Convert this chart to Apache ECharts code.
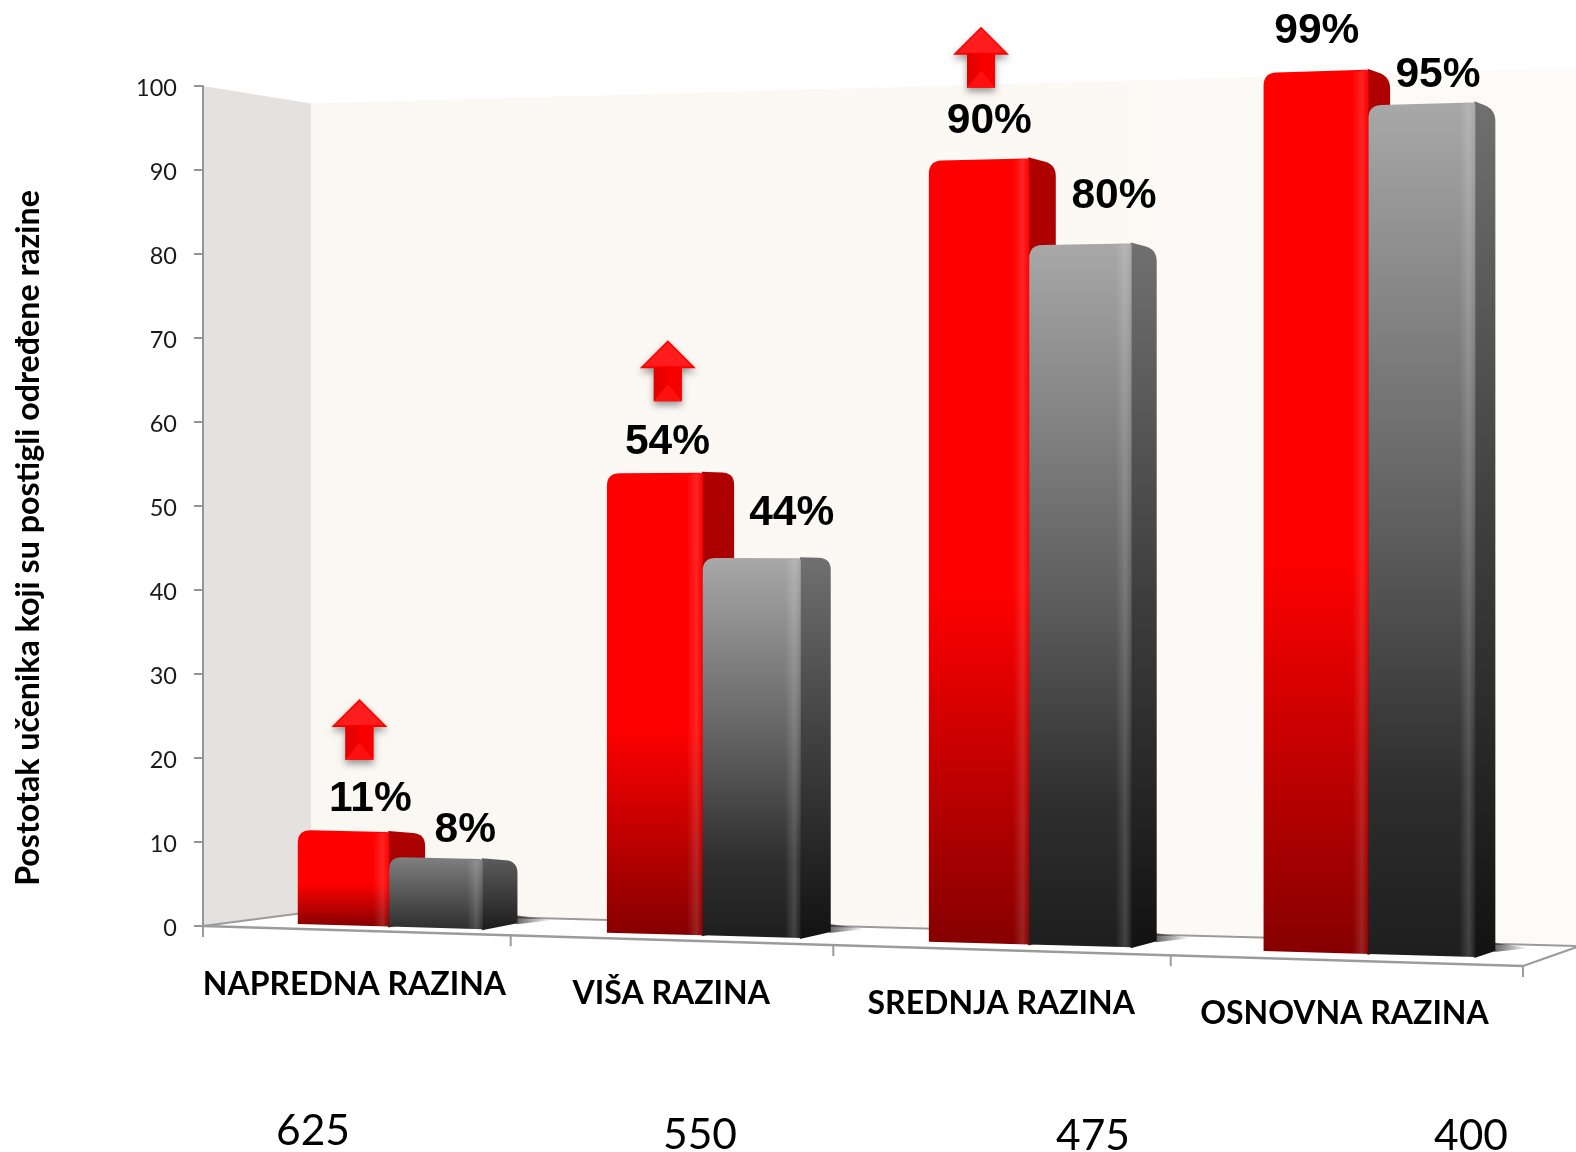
<!DOCTYPE html>
<html>
<head>
<meta charset="utf-8">
<style>html,body{margin:0;padding:0;background:#fff}#c{width:1576px;height:1152px}</style>
<script src="https://cdn.jsdelivr.net/npm/echarts@6/dist/echarts.min.js"></script>
</head>
<body>
<div id="c"></div>
<script>
const categories = ['NAPREDNA RAZINA', 'VIŠA RAZINA', 'SREDNJA RAZINA', 'OSNOVNA RAZINA'];
const scores = ['625', '550', '475', '400'];
const redValues = [11, 54, 90, 99];
const grayValues = [8, 44, 80, 95];
const arrowFlags = [true, true, true, false];
const yTicks = { min: 0, max: 100, interval: 10 };
const yTitle = 'Postotak učenika koji su postigli određene razine';

/* layout of the 3-D look */
const redLabelDx = [9, -3, -3, -10], redLabelDy = [31, 31.2, 39.9, 41.2];
const grayLabelDx = [12, 25, 21, 6], grayLabelDy = [26.6, 45, 49.5, 30.5];
const arrowDx = [16, 13, 2, 0], arrowGap = [70, 72, 73, 70];
const sideDrop = [3, 1, 7, 8];
const scoreX = [313, 700, 1093, 1471], scoreY = [1131, 1135, 1136, 1136];
const FLAT_K = 8.4, TOP_RISE = 3;

const chart = echarts.init(document.getElementById('c'));

function perspX(fx, g, a) {
  const t = (fx - g.x) / g.width;
  return g.x + g.width * (t + (a === undefined ? 0.08 : a) * t * (t - 1));
}
function baseY(x) { return 924 + 0.028 * (x - 298); }
function kAt(x) { return 8.27 + 0.00059 * (x - 298); }
function project(api, g, i, f, v) {
  const flat = api.coord([i, v]);
  const zero = api.coord([i, 0]);
  const band = api.size([1, 0])[0];
  const x = perspX(flat[0] + (f - 0.5) * band, g);
  const y = baseY(x) - (zero[1] - flat[1]) * kAt(x) / FLAT_K - (v > 0 ? TOP_RISE : 0);
  return [x, y];
}
function rounded(pts, radii) {
  const out = [], n = pts.length;
  for (let i = 0; i < n; i++) {
    const p = pts[i], r = radii[i] || 0;
    if (!r) { out.push(p); continue; }
    const a = pts[(i + n - 1) % n], b = pts[(i + 1) % n];
    const la = Math.hypot(a[0] - p[0], a[1] - p[1]), lb = Math.hypot(b[0] - p[0], b[1] - p[1]);
    const s = [p[0] + (a[0] - p[0]) * r / la, p[1] + (a[1] - p[1]) * r / la];
    const e = [p[0] + (b[0] - p[0]) * r / lb, p[1] + (b[1] - p[1]) * r / lb];
    for (let k = 0; k <= 8; k++) {
      const u = k / 8, w = 1 - u;
      out.push([w * w * s[0] + 2 * w * u * p[0] + u * u * e[0], w * w * s[1] + 2 * w * u * p[1] + u * u * e[1]]);
    }
  }
  return out;
}
function vGrad(stops) {
  return { type: 'linear', x: 0, y: 0, x2: 0, y2: 1,
    colorStops: stops.map(s => ({ offset: s[0], color: s[1] })) };
}
function hGrad(stops) {
  return { type: 'linear', x: 0, y: 0, x2: 1, y2: 0,
    colorStops: stops.map(s => ({ offset: s[0], color: s[1] })) };
}
function poly(points, fill, extra) {
  return { type: 'polygon', shape: { points }, style: Object.assign({ fill }, extra || {}) };
}
function bigText(text, x, y, size, weight, family) {
  return { type: 'text', x, y, style: { text, fontSize: size, fontWeight: weight, fontFamily: family,
    fill: '#000', align: 'center', verticalAlign: 'middle' } };
}
function barFace(api, g, i, f0, f1, v, faces) {
  const tl = project(api, g, i, f0, v), tr = project(api, g, i, f1, v);
  const bl = project(api, g, i, f0, 0), br = project(api, g, i, f1, 0);
  const s = 36 - 0.0147 * (tr[0] - 388);
  const topY = tr[1] - 1, drop = sideDrop[i];
  const side = rounded([[tr[0] - 1, topY], [tr[0] + s, topY + drop], [tr[0] + s, br[1] - 6], [tr[0] - 1, br[1] + 1]], [0, 12, 0, 0]);
  const front = rounded([tl, tr, br, bl], [13, 3, 0, 0]);
  const strip = [[tr[0] - 16, tr[1] + 2], [tr[0], tr[1]], [tr[0], br[1]], [tr[0] - 16, br[1]]];
  return { tl, tr, bl, br, s, children: [
    poly(side, vGrad(faces.side)),
    poly(front, vGrad(faces.front)),
    poly(strip, hGrad([[0, 'rgba(255,255,255,0)'], [0.6, 'rgba(255,255,255,' + faces.glow + ')'], [1, 'rgba(255,255,255,0)']]))
  ] };
}
function arrow(cx, b) {
  const tip = b - 61, head = b - 33;
  return [
    poly([[cx, tip], [cx + 28, head], [cx + 14, head], [cx + 14, b], [cx - 14, b], [cx - 14, head], [cx - 28, head]], '#ff0000',
      { shadowColor: 'rgba(0,0,0,0.4)', shadowBlur: 7, shadowOffsetY: 4 }),
    poly([[cx, tip + 2], [cx + 24, head - 2], [cx - 24, head - 2]], '#ff1c1c'),
    poly([[cx - 14, head], [cx, head - 2], [cx, b - 17], [cx - 14, b]], hGrad([[0, '#e00000'], [1, '#f00000']])),
    poly([[cx, head - 2], [cx + 14, head], [cx + 14, b - 1], [cx, b - 17]], '#f80000'),
    poly([[cx - 14, b], [cx, b - 17], [cx + 14, b]], '#ff1010')
  ];
}
function renderRed(params, api) {
  const i = api.value(0), v = api.value(1), g = params.coordSys;
  const f = barFace(api, g, i, 0.31 - 0.016 * i, 0.605 - 0.014 * i, v, {
    side: [[0, '#b00000'], [0.6, '#a00000'], [1, '#6a0000']],
    front: [[0, '#ff0000'], [0.55, '#ff0000'], [1, '#860000']], glow: 0.14 });
  const kids = f.children;
  const cx = (f.tl[0] + f.tr[0] + f.s) / 2;
  kids.push(bigText(v + '%', cx + redLabelDx[i], f.tl[1] - redLabelDy[i], 42.5, 'bold', '"Liberation Sans"'));
  if (arrowFlags[i]) kids.push.apply(kids, arrow((f.tl[0] + f.tr[0]) / 2 + arrowDx[i], f.tl[1] - arrowGap[i]));
  return { type: 'group', children: kids };
}
function renderGray(params, api) {
  const i = api.value(0), v = api.value(1), g = params.coordSys;
  const small = v < 20;
  const f = barFace(api, g, i, 0.605 - 0.014 * i, 0.904 - 0.0127 * i, v, {
    side: small ? [[0, '#5c5c5c'], [1, '#1c1c1c']] : [[0, '#707070'], [0.5, '#3e3e3e'], [1, '#121212']],
    front: small ? [[0, '#808080'], [1, '#2e2e2e']] : [[0, '#a8a8a8'], [0.5, '#5e5e5e'], [0.8, '#2e2e2e'], [1, '#1e1e1e']],
    glow: 0.16 });
  const kids = [];
  const sx = f.br[0] + f.s, sy = f.br[1] - 6;
  kids.push(poly([[sx - 1, sy - 8], [sx + 34, sy - 3], [sx - 1, sy + 1]],
    hGrad([[0, 'rgba(0,0,0,0.6)'], [1, 'rgba(0,0,0,0)']])));
  kids.push.apply(kids, f.children);
  const cx = (f.tl[0] + f.tr[0] + f.s) / 2;
  kids.push(bigText(v + '%', cx + grayLabelDx[i], f.tl[1] - grayLabelDy[i], 42.5, 'bold', '"Liberation Sans"'));
  return { type: 'group', children: kids };
}
function renderRoom(params, api) {
  const g = params.coordSys;
  const top = api.coord([0, 100])[1], zero = api.coord([0, 0])[1];
  const O = [g.x, zero], T = [g.x, top];
  const R = [g.x + g.width, zero + 40];
  const back0 = [g.x + 108, zero - 14], backT = [g.x + 108, top + 17.5];
  const farB = [1580, 946], farT = [1580, 68];
  const line = (a, b, w) => ({ type: 'line', shape: { x1: a[0], y1: a[1], x2: b[0], y2: b[1] },
    style: { stroke: '#9b9b9b', lineWidth: w } });
  const kids = [
    poly([backT, farT, farB, back0], hGrad([[0, '#fbf7f3'], [1, '#fdfbf7']])),
    poly([T, backT, back0, O], '#e4e1de'),
    poly([O, back0, farB, R], '#ffffff'),
    line(O, back0, 2), line(back0, farB, 2), line(O, R, 2.5), line(R, farB, 2)
  ];
  for (let c = 0; c <= categories.length; c++) {
    const fx = g.x + g.width * c / categories.length, x = perspX(fx, g, 0.09);
    const y = O[1] + (x - O[0]) * (R[1] - O[1]) / (R[0] - O[0]);
    kids.push(line([x, y], [x, y + 11], 2));
  }
  return { type: 'group', children: kids };
}
function renderText(params, api) {
  const i = api.value(0), g = params.coordSys;
  const x = perspX(api.coord([i, 0])[0], g) - 2;
  const y = 926 + (x - 203) * 0.0285 + 54.7;
  return { type: 'group', children: [
    bigText(categories[i], x, y, 32, 'bold', 'Lato'),
    bigText(scores[i], scoreX[i], scoreY[i], 42.5, 'normal', 'Lato')
  ] };
}

chart.setOption({
  animation: false,
  backgroundColor: '#ffffff',
  grid: { left: 203, right: 53, top: 86, bottom: 226, containLabel: false },
  xAxis: { type: 'category', data: categories, show: false },
  yAxis: {
    type: 'value', min: yTicks.min, max: yTicks.max, interval: yTicks.interval,
    axisLine: { show: true, lineStyle: { color: '#969696', width: 2 } },
    axisTick: { show: true, length: 9, lineStyle: { color: '#969696', width: 2 } },
    axisLabel: { margin: 26, formatter: '{a|{value}}',
      rich: { a: { fontFamily: 'Lato', fontSize: 23.5, color: '#1a1a1a', padding: [5, 0, 0, 0] } } },
    splitLine: { show: false },
    z: 5
  },
  graphic: [{
    type: 'text', x: 29, y: 538, rotation: Math.PI / 2,
    style: { text: yTitle, fontFamily: 'Lato', fontWeight: 'bold', fontSize: 32.2, fill: '#000',
      align: 'center', verticalAlign: 'middle' }
  }],
  series: [
    { type: 'custom', name: 'room', coordinateSystem: 'cartesian2d', clip: false, z: 1, silent: true,
      renderItem: renderRoom, data: [[0, 0]] },
    { type: 'custom', name: 'red', coordinateSystem: 'cartesian2d', clip: false, z: 3, silent: true,
      renderItem: renderRed, data: redValues.map((v, i) => [i, v]) },
    { type: 'custom', name: 'gray', coordinateSystem: 'cartesian2d', clip: false, z: 4, silent: true,
      renderItem: renderGray, data: grayValues.map((v, i) => [i, v]) },
    { type: 'custom', name: 'labels', coordinateSystem: 'cartesian2d', clip: false, z: 6, silent: true,
      renderItem: renderText, data: categories.map((c, i) => [i, 0]) }
  ]
});
</script>
</body>
</html>
